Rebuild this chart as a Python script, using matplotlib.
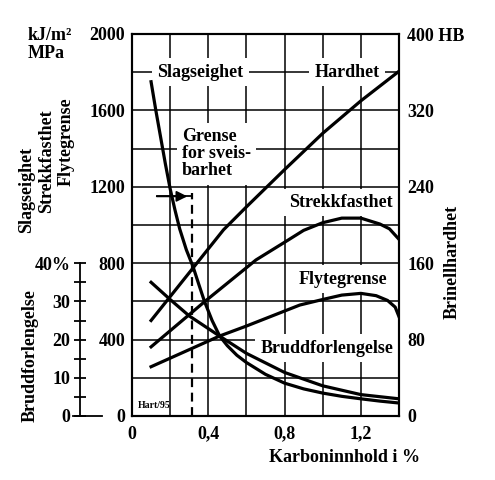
import numpy as np
import matplotlib.pyplot as plt
from matplotlib.lines import Line2D

plt.rcParams['font.family'] = ['Liberation Serif', 'DejaVu Serif']
plt.rcParams['font.size'] = 13
plt.rcParams['font.weight'] = 'bold'
plt.rcParams['axes.labelweight'] = 'bold'

# values (x = carbon content in %)
x_slag = [0.1, 0.125, 0.15, 0.175, 0.2, 0.225, 0.25, 0.285, 0.32, 0.35, 0.38, 0.42,
          0.46, 0.5, 0.55, 0.6, 0.7, 0.8, 0.9, 1.0, 1.1, 1.2, 1.3, 1.4]
slagseighet = [1750, 1600, 1460, 1320, 1190, 1080, 980, 870, 782, 690, 600, 500,
               418, 368, 318, 280, 218, 172, 142, 120, 103, 90, 78, 68]   # kJ/m2

x_strekk = [0.1, 0.38, 0.65, 0.82, 0.9, 1.0, 1.1, 1.2, 1.3, 1.35, 1.4]
strekkfasthet = [362, 598, 817, 922, 972, 1012, 1036, 1036, 1005, 980, 925]  # MPa

x_flyte = [0.1, 0.46, 0.6, 0.88, 1.0, 1.1, 1.2, 1.28, 1.34, 1.38, 1.4]
flytegrense = [258, 419, 471, 581, 610, 633, 642, 630, 605, 570, 520]  # MPa

x_hard = [0.1, 0.32, 0.48, 0.6, 0.8, 1.0, 1.2, 1.4]
hardhet = [100, 155, 195, 219, 258, 296, 330, 361]  # HB

x_brudd = [0.1, 0.2, 0.3, 0.46, 0.6, 0.8, 1.0, 1.2, 1.4]
bruddforlengelse = [35, 30.5, 26.2, 20.9, 16.4, 11.4, 7.9, 5.6, 4.5]  # %

grense_sveis = 0.315   # % C, limit for weldability
grense_top = 1165
arrow_start = 0.13
arrow_head = 0.29
arrow_y = 1150

x_ticks = [0, 0.4, 0.8, 1.2]
x_ticklabels = ['0', '0,4', '0,8', '1,2']
y_ticks = [0, 400, 800, 1200, 1600, 2000]
hb_ticks = [0, 80, 160, 240, 320, 400]
hb_ticklabels = ['0', '80', '160', '240', '320', '400 HB']
pct_ticks = [0, 10, 20, 30, 40]
pct_ticklabels = ['0', '10', '20', '30', '40%']

W, H = 495, 480
fig = plt.figure(figsize=(W / 100, H / 100), dpi=100)
L, R, B, T = 132 / W, 399 / W, 1 - 416 / H, 1 - 34 / H
ax = fig.add_axes([L, B, R - L, T - B])

ax.set_xlim(0, 1.4)
ax.set_ylim(0, 2000)
ax.set_xticks(x_ticks)
ax.set_xticklabels(x_ticklabels)
ax.set_xticks(np.arange(0.2, 1.41, 0.4), minor=True)
ax.set_yticks(y_ticks)
ax.set_yticks(np.arange(200, 2000, 400), minor=True)
ax.tick_params(which='both', length=0)
ax.tick_params(axis='x', pad=7)
ax.tick_params(axis='y', pad=5)
ax.set_axisbelow(True)
ax.grid(which='both', color='black', lw=1.1)
for s in ax.spines.values():
    s.set_linewidth(1.5)

# brinell scale on the right
ax2 = ax.twinx()
ax2.set_ylim(0, 400)
ax2.set_yticks(hb_ticks)
ax2.set_yticklabels(hb_ticklabels)
ax2.tick_params(length=0, pad=6)
for s in ax2.spines.values():
    s.set_linewidth(1.5)

# curves
lw = 2.3
ax.plot(x_slag, slagseighet, color='black', lw=lw, zorder=3)
ax.plot(x_strekk, strekkfasthet, color='black', lw=lw, zorder=3)
ax.plot(x_flyte, flytegrense, color='black', lw=lw, zorder=3)
mpa_per_pct = 2000 / 100
ax.plot(x_brudd, np.array(bruddforlengelse) * mpa_per_pct, color='black', lw=lw, zorder=3)
ax2.plot(x_hard, hardhet, color='black', lw=lw, zorder=3)

# weldability limit
ax.plot([grense_sveis, grense_sveis], [0, grense_top], color='black', lw=1.6,
        ls=(0, (4, 2.5)), zorder=3)
ax.plot([arrow_start, grense_sveis], [arrow_y, arrow_y], color='black', lw=1.3, zorder=3)
ax.annotate('', xy=(arrow_head, arrow_y), xytext=(arrow_start, arrow_y),
            arrowprops=dict(arrowstyle='-|>', mutation_scale=16, lw=1.3, color='black',
                            shrinkA=0, shrinkB=0), zorder=3)

box = dict(boxstyle='square,pad=0.3', fc='white', ec='none')
ax.text(0.357, 1800, 'Slagseighet', ha='center', va='center', bbox=box, zorder=2.5)
ax.text(1.128, 1800, 'Hardhet', ha='center', va='center', bbox=box, zorder=2.5)
ax.text(0.262, 1372, 'Grense\nfor sveis-\nbarhet', ha='left', va='center',
        linespacing=1.0, bbox=box, zorder=2.5)
ax.text(1.096, 1118, 'Strekkfasthet', ha='center', va='center', bbox=box, zorder=2.5)
ax.text(1.104, 717, 'Flytegrense', ha='center', va='center', bbox=box, zorder=2.5)
ax.text(1.024, 355, 'Bruddforlengelse', ha='center', va='center', bbox=box, zorder=2.5)
ax.text(0.03, 40, 'Hart/95', fontsize=7, fontweight='bold', zorder=2.5)

ax.set_xlabel('Karboninnhold i %')
ax.xaxis.set_label_coords((345 - 132) / 267, -(458 - 416) / 382)
ax.xaxis.label.set_va('center')

# elongation scale on the far left
axp = fig.add_axes([80 / W, B, 0.0001, 0.4 * (T - B)])
axp.set_ylim(0, 40)
for s in ['right', 'top', 'bottom']:
    axp.spines[s].set_visible(False)
axp.spines['left'].set_linewidth(1.3)
axp.patch.set_visible(False)
axp.set_xticks([])
axp.set_yticks(pct_ticks)
axp.set_yticklabels(pct_ticklabels)
axp.set_yticks([5, 15, 25, 35], minor=True)
axp.tick_params(which='both', direction='inout', length=8, width=1.3, pad=3)
fig.add_artist(Line2D([73 / W, 102 / W], [B, B], color='black', lw=1.3))

# axis titles
fig.text(28 / W, 1 - 35 / H, 'kJ/m²', ha='left', va='center')
fig.text(28 / W, 1 - 53 / H, 'MPa', ha='left', va='center')
fig.text(27 / W, 1 - 190 / H, 'Slagseighet', rotation=90, ha='center', va='center')
fig.text(47 / W, 1 - 161 / H, 'Strekkfasthet', rotation=90, ha='center', va='center')
fig.text(66 / W, 1 - 142 / H, 'Flytegrense', rotation=90, ha='center', va='center')
fig.text(30 / W, 1 - 356 / H, 'Bruddforlengelse', rotation=90, ha='center', va='center')
fig.text(452 / W, 1 - 262 / H, 'Brinellhardhet', rotation=90, ha='center', va='center')

fig.savefig('out.png', dpi=100)
